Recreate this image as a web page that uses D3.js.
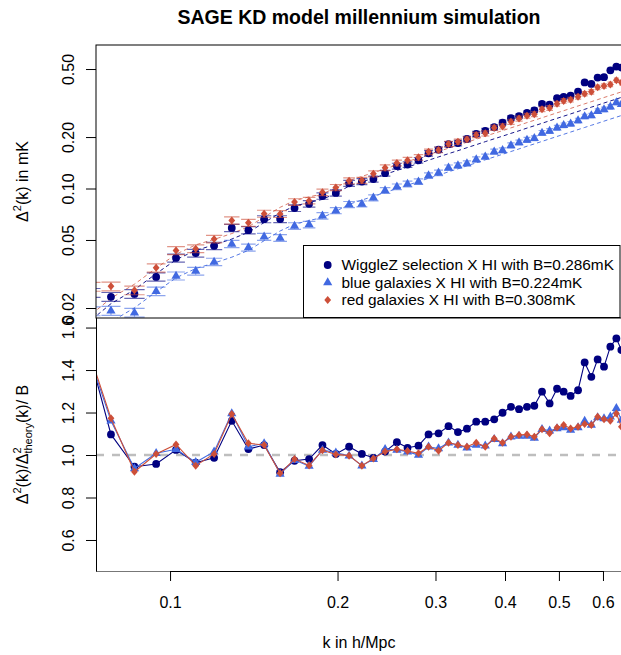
<!DOCTYPE html>
<html lang="en">
<head>
<meta charset="utf-8">
<title>SAGE KD model millennium simulation</title>
<script src="https://cdn.jsdelivr.net/npm/d3@7"></script>
<style>
  body { margin: 0; background: #fff; }
  svg text { font-family: "Liberation Sans", Arial, Helvetica, sans-serif; fill: #000; }
</style>
</head>
<body>
<div id="chart"></div>
<script>
"use strict";

// k bins in h/Mpc
let kBins = [0.0724, 0.0783, 0.0863, 0.0944, 0.1025, 0.1112, 0.1200, 0.1291, 0.1383, 0.1476,
             0.1577, 0.1674, 0.1778, 0.1879, 0.1986, 0.2098, 0.2212, 0.2320, 0.2435, 0.2557,
             0.2672, 0.2796, 0.2915, 0.3038, 0.3166, 0.3292, 0.3417, 0.3551, 0.3686, 0.3825,
             0.3960, 0.4100, 0.4239, 0.4381, 0.4516, 0.4662, 0.4811, 0.4961, 0.5099, 0.5248,
             0.5412, 0.5562, 0.5718, 0.5869, 0.6026, 0.6186, 0.6342, 0.6475]

// theory power (per unit B), mK
let theory = [0.060, 0.0741, 0.0895, 0.111, 0.134, 0.152, 0.1636, 0.177, 0.194, 0.221,
              0.252, 0.276, 0.290, 0.302, 0.328, 0.361, 0.382, 0.402, 0.423, 0.446,
              0.467, 0.490, 0.512, 0.535, 0.559, 0.582, 0.606, 0.631, 0.657, 0.683,
              0.708, 0.735, 0.761, 0.789, 0.814, 0.842, 0.871, 0.900, 0.926, 0.955,
              0.987, 1.016, 1.046, 1.075, 1.106, 1.137, 1.167, 1.193]

// measured / (B * theory)
let ratioWiggleZ = [1.430, 1.097, 0.945, 0.958, 1.024, 0.964, 0.987, 1.161, 1.028, 1.047,
                    0.919, 0.973, 0.981, 1.047, 1.005, 1.039, 1.005, 0.987, 1.016, 1.060,
                    1.034, 1.044, 1.097, 1.102, 1.136, 1.108, 1.124, 1.157, 1.157, 1.168,
                    1.199, 1.227, 1.216, 1.227, 1.232, 1.298, 1.243, 1.312, 1.298, 1.278,
                    1.305, 1.436, 1.368, 1.450, 1.416, 1.510, 1.549, 1.494]
let ratioBlue = [1.426, 1.161, 0.937, 1.008, 1.027, 0.966, 1.016, 1.196, 1.039, 1.055,
                 0.911, 0.976, 0.948, 1.024, 1.011, 0.997, 0.950, 0.980, 1.027, 1.024,
                 1.016, 1.000, 1.039, 1.031, 1.058, 1.047, 1.034, 1.047, 1.044, 1.074,
                 1.055, 1.086, 1.090, 1.090, 1.080, 1.122, 1.114, 1.125, 1.130, 1.118,
                 1.130, 1.160, 1.141, 1.177, 1.172, 1.180, 1.220, 1.165]
let ratioRed = [1.443, 1.173, 0.921, 1.005, 1.050, 0.950, 1.005, 1.193, 1.055, 1.047,
                0.914, 0.981, 0.951, 1.022, 1.003, 0.997, 0.950, 0.984, 1.016, 1.027,
                1.019, 1.008, 1.039, 1.020, 1.058, 1.047, 1.039, 1.058, 1.039, 1.078,
                1.058, 1.086, 1.094, 1.097, 1.086, 1.121, 1.102, 1.130, 1.141, 1.125,
                1.133, 1.146, 1.141, 1.180, 1.168, 1.161, 1.196, 1.133]

// fractional error on the measured power
let errFrac = [0.060, 0.060, 0.058, 0.056, 0.054, 0.052, 0.050, 0.049, 0.048, 0.047,
               0.046, 0.045, 0.044, 0.043, 0.042, 0.041, 0.040, 0.040, 0.039, 0.039,
               0.038, 0.038, 0.037, 0.037, 0.036, 0.036, 0.035, 0.035, 0.035, 0.034,
               0.034, 0.034, 0.033, 0.033, 0.033, 0.032, 0.032, 0.032, 0.031, 0.031,
               0.031, 0.030, 0.030, 0.030, 0.030, 0.030, 0.030, 0.030]

let biasB = [0.286, 0.224, 0.308]
let legendLabels = ["WiggleZ selection X HI with B=0.286mK",
                    "blue galaxies X HI with B=0.224mK",
                    "red galaxies X HI with B=0.308mK"]
let topTicks = [0.02, 0.05, 0.10, 0.20, 0.50]
let bottomTicks = [0.6, 0.8, 1.0, 1.2, 1.4, 1.6]
let xTicks = [0.1, 0.2, 0.3, 0.4, 0.5, 0.6]

let width = 621, height = 655
let plotL = 96, plotR = 626, topT = 45, midY = 318, botB = 571

let colors = ["#000080", "#4169E1", "#CD4F39"]
let series = [
  {label: legendLabels[0], ratio: ratioWiggleZ, B: biasB[0], color: colors[0], shape: "circle"},
  {label: legendLabels[1], ratio: ratioBlue,    B: biasB[1], color: colors[1], shape: "triangle"},
  {label: legendLabels[2], ratio: ratioRed,     B: biasB[2], color: colors[2], shape: "diamond"}
]

let x = d3.scaleLog().domain([0.0736, 0.66]).range([plotL, plotR])
let yTop = d3.scaleLog().domain([0.01748, 0.691]).range([midY, topT])
let yBot = d3.scaleLinear().domain([0.454, 1.645]).range([botB, midY])

let svg = d3.select("#chart").append("svg")
  .attr("width", width).attr("height", height)

let defs = svg.append("defs")
defs.append("clipPath").attr("id", "clipTop").append("rect")
  .attr("x", plotL).attr("y", topT).attr("width", plotR - plotL).attr("height", midY - topT)
defs.append("clipPath").attr("id", "clipBot").append("rect")
  .attr("x", plotL).attr("y", midY).attr("width", plotR - plotL).attr("height", botB - midY)

function marker(sel, shape, color) {
  if (shape == "circle") {
    sel.append("circle").attr("r", 3.9).attr("fill", color)
  } else if (shape == "triangle") {
    sel.append("path").attr("d", "M0,-5.2L4.6,2.8L-4.6,2.8Z").attr("fill", color)
  } else {
    sel.append("path").attr("d", "M0,-4L3.4,0L0,4L-3.4,0Z").attr("fill", color)
  }
}

// half width of a bin cap, in pixels
function capHalf(i) {
  let n = kBins.length
  let a = i > 0 ? x(kBins[i]) - x(kBins[i - 1]) : x(kBins[1]) - x(kBins[0])
  let b = i < n - 1 ? x(kBins[i + 1]) - x(kBins[i]) : a
  return 0.45 * (a + b) / 2
}

// ---------- top panel ----------
let gTop = svg.append("g").attr("clip-path", "url(#clipTop)")

series.forEach(s => {
  let dashLine = d3.line()
    .x((d, i) => x(kBins[i]))
    .y(d => yTop(s.B * d))
  gTop.append("path")
    .datum(theory)
    .attr("fill", "none")
    .attr("stroke", s.color)
    .attr("stroke-opacity", s.shape == "diamond" ? 0.75 : 0.9)
    .attr("stroke-width", 1)
    .attr("stroke-dasharray", "4,3")
    .attr("d", dashLine)
})

series.forEach(s => {
  let vals = s.ratio.map((r, i) => r * s.B * theory[i])
  gTop.append("g").selectAll("path")
    .data(vals)
    .join("path")
    .attr("fill", "none")
    .attr("stroke", s.color)
    .attr("stroke-opacity", 0.6)
    .attr("stroke-width", 1.2)
    .attr("d", (v, i) => {
      let cx = x(kBins[i]), hw = capHalf(i)
      let y1 = yTop(v * (1 + errFrac[i])), y0 = yTop(v * (1 - errFrac[i]))
      return `M${cx - hw},${y1}H${cx + hw}M${cx - hw},${y0}H${cx + hw}M${cx},${y1}V${y0}`
    })
  gTop.append("g").selectAll("g")
    .data(vals)
    .join("g")
    .attr("transform", (v, i) => `translate(${x(kBins[i])},${yTop(v)})`)
    .each(function () { marker(d3.select(this), s.shape, s.color) })
})

svg.append("rect")
  .attr("x", plotL).attr("y", topT)
  .attr("width", plotR - plotL).attr("height", midY - topT)
  .attr("fill", "none").attr("stroke", "#000").attr("stroke-width", 1)

// top y axis
let axTop = svg.append("g").attr("transform", `translate(${plotL},0)`)
  .call(d3.axisLeft(yTop).tickValues(topTicks).tickFormat(d3.format(".2f")).tickSize(10).tickSizeOuter(0))
axTop.select(".domain").remove()
axTop.selectAll("text")
  .attr("x", 0).attr("dy", "0.35em")
  .attr("transform", "translate(-28,0) rotate(-90)")
  .style("text-anchor", "middle")
axTop.attr("font-size", 16).attr("font-family", null)

// legend
let leg = svg.append("g")
leg.append("rect")
  .attr("x", 303.5).attr("y", 245.5).attr("width", 316.5).attr("height", 72)
  .attr("fill", "#fff").attr("stroke", "#000").attr("stroke-width", 1)
series.forEach((s, i) => {
  let row = leg.append("g").attr("transform", `translate(0,${265 + i * 17.5})`)
  let m = row.append("g").attr("transform", "translate(327.7,0)")
  marker(m, s.shape, s.color)
  row.append("text")
    .attr("x", 341.5).attr("y", 0).attr("dy", "0.35em")
    .attr("font-size", 15.4)
    .text(s.label)
})

// ---------- bottom panel ----------
let gBot = svg.append("g").attr("clip-path", "url(#clipBot)")

gBot.append("line")
  .attr("x1", plotL).attr("x2", plotR)
  .attr("y1", yBot(1)).attr("y2", yBot(1))
  .attr("stroke", "#bebebe").attr("stroke-width", 2.5)
  .attr("stroke-dasharray", "8,8")

series.forEach(s => {
  let line = d3.line()
    .x((d, i) => x(kBins[i]))
    .y(d => yBot(d))
  gBot.append("path")
    .datum(s.ratio)
    .attr("fill", "none")
    .attr("stroke", s.color)
    .attr("stroke-width", 1.1)
    .attr("d", line)
  gBot.append("g").selectAll("g")
    .data(s.ratio)
    .join("g")
    .attr("transform", (d, i) => `translate(${x(kBins[i])},${yBot(d)})`)
    .each(function () { marker(d3.select(this), s.shape, s.color) })
})

// frame: grey box bottom, black axis lines
svg.append("line")
  .attr("x1", plotL).attr("x2", plotR).attr("y1", botB + 0.5).attr("y2", botB + 0.5)
  .attr("stroke", "#777").attr("stroke-width", 1)
svg.append("line")
  .attr("x1", plotL + 0.5).attr("x2", plotL + 0.5).attr("y1", midY).attr("y2", botB + 0.5)
  .attr("stroke", "#000").attr("stroke-width", 1)

let axBot = svg.append("g").attr("transform", `translate(${plotL},0)`)
  .call(d3.axisLeft(yBot).tickValues(bottomTicks).tickFormat(d3.format(".1f")).tickSize(10).tickSizeOuter(0))
axBot.select(".domain").remove()
axBot.selectAll("text")
  .attr("x", 0).attr("dy", "0.35em")
  .attr("transform", "translate(-28,0) rotate(-90)")
  .style("text-anchor", "middle")
axBot.attr("font-size", 16).attr("font-family", null)

let axX = svg.append("g").attr("transform", `translate(0,${botB})`)
  .call(d3.axisBottom(x).tickValues(xTicks).tickFormat(d3.format(".1f")).tickSize(10).tickSizeOuter(0))
axX.select(".domain").remove()
axX.append("line")
  .attr("x1", x(xTicks[0])).attr("x2", x(xTicks[xTicks.length - 1]))
  .attr("y1", 0.5).attr("y2", 0.5).attr("stroke", "#000")
axX.selectAll("text").attr("y", 31).attr("dy", "0.35em")
axX.attr("font-size", 16).attr("font-family", null)

// ---------- titles ----------
svg.append("text")
  .attr("x", (plotL + plotR) / 2 - 2).attr("y", 24)
  .attr("text-anchor", "middle")
  .attr("font-size", 19.5).attr("font-weight", "bold")
  .text("SAGE KD model millennium simulation")

svg.append("text")
  .attr("x", (plotL + plotR) / 2 - 2).attr("y", 648)
  .attr("text-anchor", "middle")
  .attr("font-size", 16)
  .text("k in h/Mpc")

let yl1 = svg.append("text")
  .attr("transform", `translate(28,${(topT + midY) / 2}) rotate(-90)`)
  .attr("text-anchor", "middle")
  .attr("font-size", 16)
yl1.append("tspan").text("Δ")
yl1.append("tspan").attr("font-size", 11).attr("dy", -7).text("2")
yl1.append("tspan").attr("dy", 7).text("(k) in mK")

let yl2 = svg.append("text")
  .attr("transform", `translate(28,${(midY + botB) / 2}) rotate(-90)`)
  .attr("text-anchor", "middle")
  .attr("font-size", 16)
yl2.append("tspan").text("Δ")
yl2.append("tspan").attr("font-size", 11).attr("dy", -7).text("2")
yl2.append("tspan").attr("dy", 7).text("(k)/Δ")
yl2.append("tspan").attr("font-size", 11).attr("dy", -7).text("2")
yl2.append("tspan").attr("font-size", 11).attr("dx", -6.1).attr("dy", 11).text("theory")
yl2.append("tspan").attr("dy", -4).text("(k)/ B")
</script>
</body>
</html>
